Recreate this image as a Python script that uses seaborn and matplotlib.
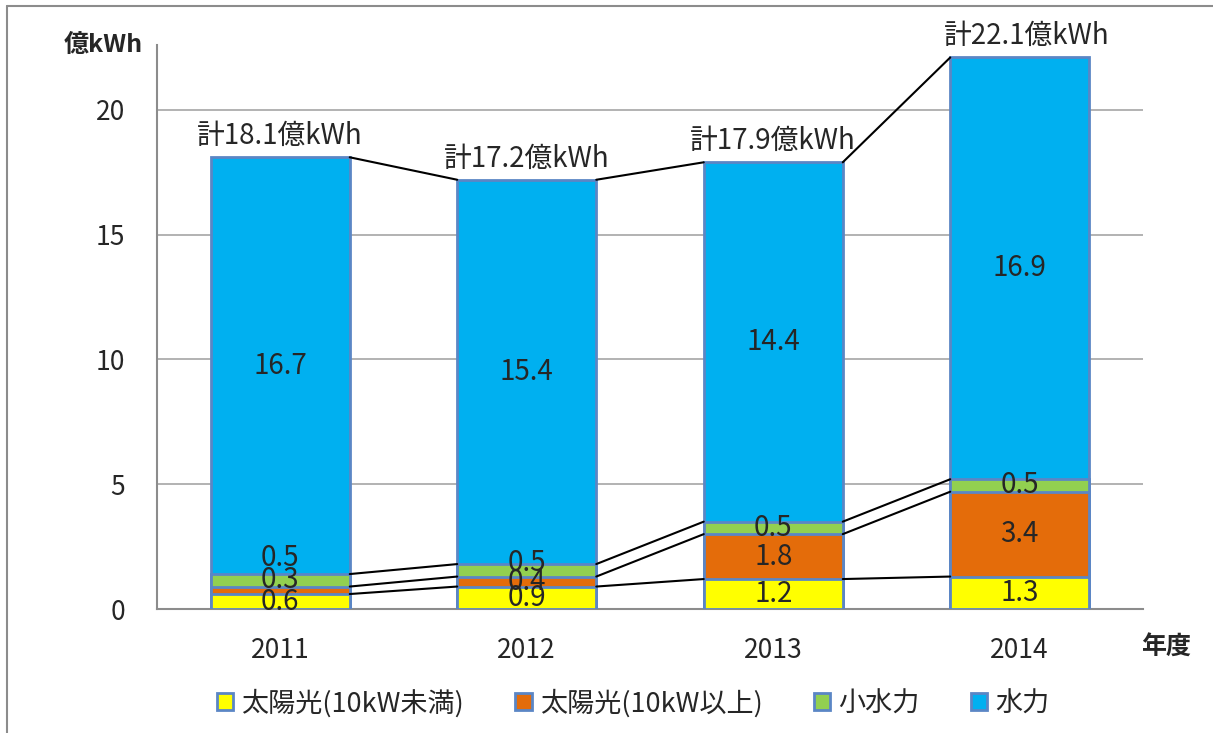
import numpy as np
import matplotlib
matplotlib.use("Agg")
import matplotlib.pyplot as plt
from matplotlib.patches import Patch
from matplotlib.lines import Line2D
import seaborn as sns

# data (億kWh)
years = ["2011", "2012", "2013", "2014"]
series_names = ["太陽光(10kW未満)", "太陽光(10kW以上)", "小水力", "水力"]
solar_small = [0.6, 0.9, 1.2, 1.3]
solar_large = [0.3, 0.4, 1.8, 3.4]
small_hydro = [0.5, 0.5, 0.5, 0.5]
hydro = [16.7, 15.4, 14.4, 16.9]
totals = [18.1, 17.2, 17.9, 22.1]

colors = ["#ffff00", "#e46c0a", "#92d050", "#00b0f0"]
edge = "#5b86c5"

sns.set_style("white")
plt.rcParams['font.family'] = ['Noto Sans CJK JP', 'DejaVu Sans']

fig = plt.figure(figsize=(12.13, 7.33), dpi=100)
ax = fig.add_axes([157/1213, 1 - 609/733, 986/1213, 564/733])

values = np.array([solar_small, solar_large, small_hydro, hydro])
cum = np.cumsum(values, axis=0)
bw = 0.564

# stacked bars: draw cumulative heights from the top down
for i in range(3, -1, -1):
    sns.barplot(x=years, y=cum[i], color=colors[i], saturation=1, width=bw,
                edgecolor=edge, linewidth=2, ax=ax, zorder=3)

# connector lines between bars
for i in range(len(years) - 1):
    for k in range(4):
        ax.plot([i + bw / 2, i + 1 - bw / 2], [cum[k][i], cum[k][i + 1]],
                color="black", lw=1.5, zorder=4)

# segment labels (a few nudged up like the original)
nudge = {(0, 1): 0.4, (0, 2): 0.9, (1, 2): 0.3}
for i in range(len(years)):
    for k in range(4):
        y = cum[k][i] - values[k][i] / 2 + nudge.get((i, k), 0)
        ax.text(i, y, f"{values[k][i]:.1f}", ha="center", va="center",
                fontsize=20, zorder=5)
    ax.text(i + (0.03 if i == 3 else 0), totals[i] + 0.85,
            f"計{totals[i]:.1f}億kWh", ha="center", va="center",
            fontsize=20, zorder=5)

ax.set_xlim(-0.5, 3.5)
ax.set_ylim(0, 22.6)
ax.set_yticks([0, 5, 10, 15, 20])
ax.yaxis.grid(True, color="#a6a6a6", lw=1.2, zorder=0)
ax.set_axisbelow(True)
for s in ["top", "right"]:
    ax.spines[s].set_visible(False)
for s in ["left", "bottom"]:
    ax.spines[s].set_color("#8c8c8c")
    ax.spines[s].set_linewidth(1.5)
ax.tick_params(axis="y", length=6, width=1.5, color="#8c8c8c", pad=17, labelsize=19)
ax.tick_params(axis="x", which="major", length=0, pad=20, labelsize=19)
ax.set_xticks([-0.5, 0.5, 1.5, 2.5, 3.5], minor=True)
ax.tick_params(axis="x", which="minor", length=7, width=1.5, color="#8c8c8c", direction="out")
ax.set_xlabel("")
ax.set_ylabel("")

fig.text(103/1213, 1 - 45/733, "億kWh", ha="center", va="center",
         fontsize=18, fontweight="bold")
fig.text(1166/1213, 1 - 648/733, "年度", ha="center", va="center",
         fontsize=18, fontweight="bold")

handles = [Patch(facecolor=c, edgecolor=edge, linewidth=2) for c in colors]
fig.legend(handles, series_names, loc="center", bbox_to_anchor=(0.522, 1 - 703/733),
           ncol=4, frameon=False, fontsize=19.5, handlelength=0.6, handleheight=0.6,
           handletextpad=0.3, columnspacing=1.9)

# outer chart frame
fig.add_artist(Line2D([7/1213, 7/1213], [0, 1 - 6/733], color="#8c8c8c", lw=1.5))
fig.add_artist(Line2D([7/1213, 1], [1 - 6/733, 1 - 6/733], color="#8c8c8c", lw=1.5))

fig.savefig("out.png", dpi=100)
